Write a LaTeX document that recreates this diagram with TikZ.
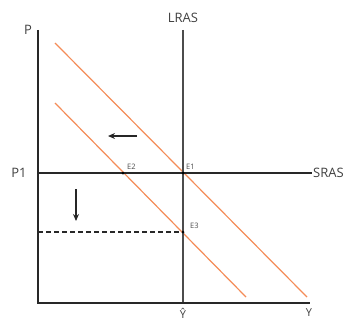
\documentclass[tikz,border=0pt]{standalone}
\usepackage{fontspec}
\setmainfont{Open Sans}
\usetikzlibrary{arrows.meta}
\definecolor{adorange}{RGB}{244,140,88}
\definecolor{axisgray}{RGB}{40,40,40}
\begin{document}
\begin{tikzpicture}[x=1pt,y=-1pt,
  axis/.style={draw=axisgray,line width=1.8pt},
  curve/.style={draw=adorange,line width=1.2pt},
  lbl/.style={font=\fontsize{13}{13}\selectfont,text=black!75,inner sep=0pt},
  small/.style={font=\fontsize{7.5}{7.5}\selectfont,text=black!70,inner sep=0pt},
  dot/.style={circle,fill=black,inner sep=0pt,minimum size=3pt},
  movearrow/.style={-{Stealth[length=7pt,width=6pt]},line width=1.3pt,draw=black!85}]
\useasboundingbox (0,0) rectangle (355,321);
% coordinates
\coordinate (O) at (38,303);
\coordinate (Ptop) at (38,30);
\coordinate (Xend) at (310,303);
\coordinate (Ltop) at (183,30);
\coordinate (Lbot) at (183,303);
\coordinate (Sleft) at (38,173);
\coordinate (Sright) at (312,173);
\coordinate (Dleft) at (38,232);
\coordinate (A1s) at (55,43);
\coordinate (A1e) at (307,297);
\coordinate (A2s) at (55,103);
\coordinate (A2e) at (246,297);
\coordinate (Ls) at (137,136);
\coordinate (Le) at (108,136);
\coordinate (Ds) at (76,189);
\coordinate (De) at (76,221);
% curves
\draw[curve] (A1s) -- (A1e);
\draw[curve] (A2s) -- (A2e);
% lines
\draw[draw=black!70,line width=1.5pt] (Ltop) -- (Lbot);
\draw[axis] (Sleft) -- (Sright);
\draw[draw=axisgray,line width=1.4pt,dash pattern=on 5pt off 3pt] (Dleft) -- (183,232);
\draw[axis] (Ptop) -- (O) -- (Xend);
% dots
\node[dot] (E1) at (183,173) {};
\node[dot] (E2) at (123,173) {};
\node[dot] (E3) at (183,232) {};
% arrows
\draw[movearrow] (Ls) -- (Le);
\draw[movearrow] (Ds) -- (De);
% labels
\node[lbl] (lP) at (28,30) {P};
\node[lbl] (lLRAS) at (183,18) {LRAS};
\node[lbl] (lP1) at (19,173) {P1};
\node[lbl,anchor=west] (lSRAS) at (313,173) {SRAS};
\node[small,anchor=south west] (lE1) at (186,170) {E1};
\node[small,anchor=south west] (lE2) at (127,170) {E2};
\node[small,anchor=west] (lE3) at (190,226) {E3};
\node[font=\fontsize{11}{11}\selectfont,text=black!75,inner sep=0pt] (lYhat) at (183,313) {Ŷ};
\node[font=\fontsize{11}{11}\selectfont,text=black!75,inner sep=0pt] (lY) at (309,313) {Y};
\end{tikzpicture}
\end{document}
